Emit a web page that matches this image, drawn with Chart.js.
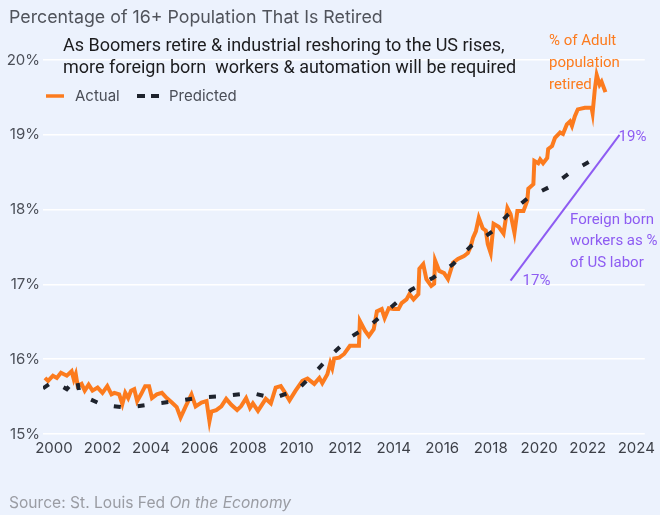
<!DOCTYPE html>
<html>
<head>
<meta charset="utf-8">
<script src="https://cdn.jsdelivr.net/npm/chart.js@4.4.1/dist/chart.umd.min.js"></script>
<style>
  html, body { margin: 0; padding: 0; background: #ECF2FD; }
  canvas { display: block; }
</style>
</head>
<body>
<canvas id="grafico" width="660" height="515"></canvas>
<script>
// --- data ---
const actualYears = [
  1999.63, 1999.76, 1999.96, 2000.12, 2000.29, 2000.53, 2000.73, 2000.82, 2000.90, 2000.98,
  2001.14, 2001.27, 2001.43, 2001.59, 2001.80, 2002.00, 2002.20, 2002.37, 2002.49, 2002.69,
  2002.82, 2002.94, 2003.06, 2003.18, 2003.31, 2003.43, 2003.59, 2003.76, 2003.92, 2004.04,
  2004.24, 2004.45, 2004.65, 2004.86, 2005.06, 2005.22, 2005.43, 2005.67, 2005.84, 2006.08,
  2006.29, 2006.41, 2006.49, 2006.69, 2006.90, 2007.10, 2007.31, 2007.55, 2007.71, 2007.92,
  2008.08, 2008.20, 2008.41, 2008.73, 2008.94, 2009.14, 2009.35, 2009.51, 2009.71, 2009.96,
  2010.24, 2010.45, 2010.73, 2010.94, 2011.06, 2011.27, 2011.39, 2011.47, 2011.55, 2011.76,
  2011.96, 2012.20, 2012.57, 2012.61, 2012.82, 2012.98, 2013.18, 2013.31, 2013.51, 2013.63,
  2013.80, 2014.00, 2014.20, 2014.33, 2014.53, 2014.65, 2014.82, 2015.02, 2015.06, 2015.22,
  2015.35, 2015.55, 2015.67, 2015.71, 2015.88, 2016.08, 2016.24, 2016.45, 2016.65, 2016.90,
  2017.06, 2017.18, 2017.27, 2017.39, 2017.51, 2017.67, 2017.80, 2017.88, 2018.00, 2018.12,
  2018.33, 2018.53, 2018.69, 2018.82, 2018.98, 2019.10, 2019.35, 2019.51, 2019.55, 2019.76,
  2019.80, 2019.96, 2020.04, 2020.16, 2020.33, 2020.37, 2020.53, 2020.65, 2020.86, 2020.98,
  2021.14, 2021.27, 2021.35, 2021.47, 2021.59, 2021.88, 2022.16, 2022.20, 2022.29, 2022.37,
  2022.49, 2022.57, 2022.73
];
const actualValues = [
  15.75, 15.71, 15.78, 15.75, 15.82, 15.78, 15.84, 15.73, 15.80, 15.64,
  15.67, 15.58, 15.66, 15.58, 15.62, 15.55, 15.64, 15.53, 15.55, 15.53,
  15.40, 15.55, 15.48, 15.58, 15.60, 15.44, 15.53, 15.64, 15.64, 15.48,
  15.53, 15.55, 15.48, 15.42, 15.36, 15.22, 15.37, 15.53, 15.37, 15.42,
  15.44, 15.17, 15.30, 15.32, 15.37, 15.47, 15.39, 15.32, 15.37, 15.48,
  15.35, 15.41, 15.31, 15.47, 15.41, 15.62, 15.64, 15.56, 15.45, 15.58,
  15.71, 15.74, 15.67, 15.75, 15.68, 15.80, 15.95, 15.88, 16.01, 16.02,
  16.07, 16.18, 16.18, 16.51, 16.38, 16.31, 16.40, 16.64, 16.67, 16.55,
  16.68, 16.67, 16.67, 16.75, 16.80, 16.87, 16.80, 16.87, 17.21, 17.27,
  17.07, 16.98, 17.01, 17.32, 17.18, 17.15, 17.07, 17.29, 17.34, 17.38,
  17.42, 17.51, 17.62, 17.71, 17.89, 17.75, 17.72, 17.54, 17.42, 17.81,
  17.77, 17.68, 18.02, 17.94, 17.69, 17.98, 17.98, 18.12, 18.28, 18.34,
  18.65, 18.62, 18.67, 18.62, 18.69, 18.81, 18.85, 18.96, 19.03, 19.01,
  19.14, 19.18, 19.12, 19.25, 19.34, 19.36, 19.36, 19.29, 19.60, 19.80,
  19.67, 19.71, 19.57
];

const predictedYears = [
  1999.55, 1999.96, 2000.53, 2000.94, 2001.06, 2002.00, 2003.02, 2004.04, 2005.06, 2006.08,
  2007.10, 2008.12, 2009.06, 2010.04, 2010.78, 2011.47, 2012.20, 2013.10, 2013.92, 2014.73,
  2015.63, 2016.45, 2017.18, 2018.08, 2018.73, 2019.55, 2020.53, 2021.39, 2022.29, 2022.41
];
const predictedValues = [
  15.61, 15.70, 15.60, 15.75, 15.53, 15.39, 15.35, 15.40, 15.44, 15.49,
  15.51, 15.55, 15.48, 15.59, 15.83, 16.07, 16.29, 16.47, 16.70, 16.93,
  17.09, 17.27, 17.51, 17.71, 17.94, 18.16, 18.32, 18.52, 18.68, 18.62
];

// linha roxa: trabalhadores estrangeiros 17% -> 19%
const foreignYears = [2018.82, 2023.31];
const foreignValues = [17.05, 19.0];
const foreignLabels = ["17%", "19%"];

const xTicks = [2000, 2002, 2004, 2006, 2008, 2010, 2012, 2014, 2016, 2018, 2020, 2022, 2024];
const yTicks = [15, 16, 17, 18, 19, 20];

const titulo = "Percentage of 16+ Population That Is Retired";
const subtitulo = [
  "As Boomers retire & industrial reshoring to the US rises,",
  "more foreign born  workers & automation will be required"
];
const notaLaranja = ["% of Adult", "population", "retired"];
const notaRoxa = ["Foreign born", "workers as %", "of US labor"];

const LARANJA = "#FC7B1E";
const ESCURO = "#1E232D";
const ROXO = "#8E5CF2";
const FUNDO = "#ECF2FD";

function pontos(xs, ys) {
  return xs.map((x, i) => ({ x, y: ys[i] }));
}

// --- textos e fundo ---
const textos = {
  id: "textos",
  beforeDraw(chart) {
    const ctx = chart.ctx;
    ctx.save();
    ctx.fillStyle = FUNDO;
    ctx.fillRect(0, 0, chart.width, chart.height);
    ctx.restore();
  },
  afterDraw(chart) {
    const ctx = chart.ctx;
    const sx = chart.scales.x;
    const sy = chart.scales.y;
    ctx.save();
    ctx.textBaseline = "middle";
    ctx.textAlign = "left";

    ctx.fillStyle = "#50535B";
    ctx.font = "17.8px Inter";
    ctx.fillText(titulo, 9, 18);

    ctx.fillStyle = "#1C1C1E";
    ctx.font = "18px Roboto";
    subtitulo.forEach((t, i) => ctx.fillText(t, 63, 46 + i * 22));

    // legenda
    ctx.lineWidth = 3.5;
    ctx.strokeStyle = LARANJA;
    ctx.beginPath();
    ctx.moveTo(46, 96);
    ctx.lineTo(64, 96);
    ctx.stroke();
    ctx.strokeStyle = ESCURO;
    ctx.lineWidth = 4;
    ctx.beginPath();
    ctx.moveTo(137, 96); ctx.lineTo(145, 96);
    ctx.moveTo(151, 96); ctx.lineTo(159, 96);
    ctx.stroke();
    ctx.fillStyle = "#4A4E57";
    ctx.font = "15px Inter";
    ctx.fillText("Actual", 75, 96);
    ctx.fillText("Predicted", 169, 96);

    // notas
    ctx.fillStyle = LARANJA;
    ctx.font = "15px Roboto";
    notaLaranja.forEach((t, i) => ctx.fillText(t, 549, 41 + i * 22));

    ctx.fillStyle = ROXO;
    notaRoxa.forEach((t, i) => ctx.fillText(t, 570, 220 + i * 21.5));
    ctx.fillText(foreignLabels[0], sx.getPixelForValue(foreignYears[0]) + 12, sy.getPixelForValue(foreignValues[0]) + 1);
    ctx.fillText(foreignLabels[1], sx.getPixelForValue(foreignYears[1]) - 1, sy.getPixelForValue(foreignValues[1]) + 2);

    // fonte
    ctx.fillStyle = "#9A9CA3";
    ctx.font = "15.6px Inter";
    const parte1 = "Source: St. Louis Fed ";
    ctx.fillText(parte1, 9, 503);
    const w = ctx.measureText(parte1).width;
    ctx.font = "italic 15.6px Inter";
    ctx.fillText("On the Economy", 9 + w, 503);
    ctx.restore();
  }
};

const ctx = document.getElementById("grafico").getContext("2d");
new Chart(ctx, {
  type: "line",
  data: {
    datasets: [
      {
        label: "Predicted",
        data: pontos(predictedYears, predictedValues),
        borderColor: ESCURO,
        borderWidth: 4,
        borderDash: [7, 17],
        borderCapStyle: "butt",
        pointRadius: 0,
        tension: 0,
        fill: false,
        order: 0,
      },
      {
        label: "Actual",
        data: pontos(actualYears, actualValues),
        borderColor: LARANJA,
        borderWidth: 4,
        pointRadius: 0,
        tension: 0,
        fill: false,
        order: 1,
      },
      {
        label: "Foreign born",
        data: pontos(foreignYears, foreignValues),
        borderColor: ROXO,
        borderWidth: 2,
        pointRadius: 0,
        fill: false,
        order: 2,
      },
    ],
  },
  options: {
    responsive: false,
    animation: false,
    layout: { padding: { top: 60, left: 0, right: 9, bottom: 57 } },
    plugins: {
      legend: { display: false },
      tooltip: { enabled: false },
    },
    scales: {
      x: {
        type: "linear",
        min: 1999.55,
        max: 2024.35,
        afterFit: (axis) => { axis.height = 24; },
        grid: { display: false, drawTicks: false, tickLength: 0 },
        border: { display: false },
        afterBuildTicks: (axis) => { axis.ticks = xTicks.map((v) => ({ value: v })); },
        ticks: {
          color: "#3D4048",
          font: { family: "Inter", size: 15 },
          padding: 5,
          maxRotation: 0,
          autoSkip: false,
          callback: (v) => String(v),
        },
      },
      y: {
        min: 15,
        max: 20,
        afterFit: (axis) => { axis.width = 43; },
        afterBuildTicks: (axis) => { axis.ticks = yTicks.map((v) => ({ value: v })); },
        grid: { color: "#FFFFFF", lineWidth: 1.5, drawTicks: false },
        border: { display: false },
        ticks: {
          color: "#4B4F58",
          font: { family: "Inter", size: 15 },
          padding: 3,
          callback: (v) => v + "%",
        },
      },
    },
  },
  plugins: [textos],
});
</script>
</body>
</html>
